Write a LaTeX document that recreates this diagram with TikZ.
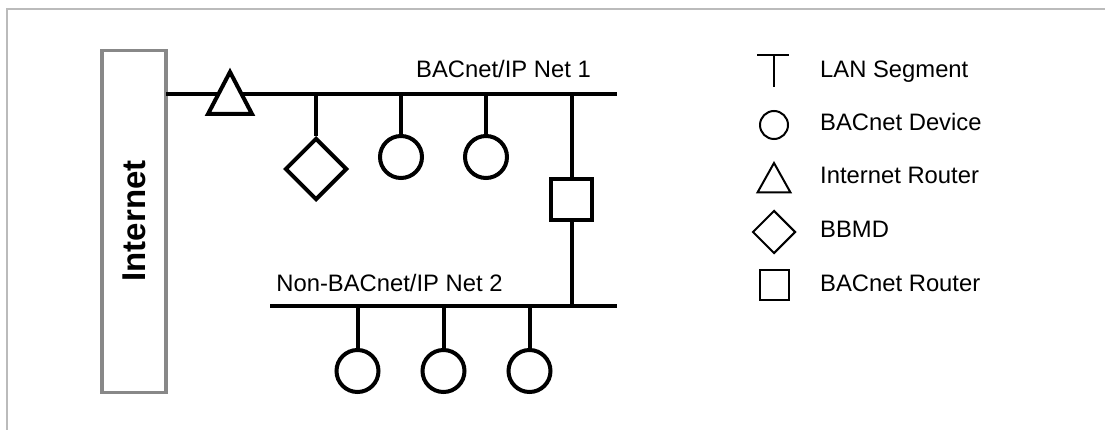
\documentclass[tikz,border=0pt]{standalone}
\usepackage{fontspec}
\setmainfont{Liberation Sans}
\usetikzlibrary{shapes.geometric}
\begin{document}
\begin{tikzpicture}[x=1pt,y=-1pt,
  net/.style={line width=4pt},
  dev/.style={circle,draw,line width=4pt,fill=white,minimum size=42pt,inner sep=0pt},
  bbmd/.style={diamond,draw,line width=4pt,fill=white,minimum width=62pt,minimum height=62pt,inner sep=0pt},
  brouter/.style={rectangle,draw,line width=4pt,fill=white,minimum size=41pt,inner sep=0pt},
  lbl/.style={font=\fontsize{23.8}{28}\selectfont,inner sep=0pt},
  leg/.style={line width=2pt},
]
\useasboundingbox (0,0) rectangle (1105,430);
% frame
\draw[color={rgb,255:red,187;green,187;blue,187},line width=2pt] (7,431) -- (7,9.5) -- (1106,9.5);
% Internet box
\node[draw={rgb,255:red,136;green,136;blue,136},line width=3.5pt,fill=white,minimum width=64pt,minimum height=342pt,inner sep=0pt] (inet) at (134,221.5) {};
\node[rotate=90,font=\fontsize{33}{36}\selectfont\bfseries,inner sep=0pt] (inetlbl) at (134.5,221) {Internet};
% Net 1
\coordinate (n1a) at (166,94);
\coordinate (n1b) at (617,94);
\draw[net] (n1a) -- (n1b);
% internet router triangle
\coordinate (trA) at (230,72);
\coordinate (trB) at (208,114);
\coordinate (trC) at (252,114);
\draw[line width=4pt,fill=white,line join=miter] (trA) -- (trB) -- (trC) -- cycle;
% BBMD
\node[bbmd] (bb) at (316,169) {};
\coordinate (s1) at (316,94);
\draw[net] (s1) -- (bb.north);
% devices net 1
\node[dev] (d1) at (401,157) {};
\node[dev] (d2) at (486,157) {};
\coordinate (s2) at (401,94);
\coordinate (s3) at (486,94);
\draw[net] (s2) -- (d1.north);
\draw[net] (s3) -- (d2.north);
% BACnet router
\coordinate (r1) at (571.5,94);
\coordinate (r2) at (571.5,306);
\node[brouter] (br) at (571.5,199.5) {};
\draw[net] (r1) -- (br.north);
\draw[net] (br.south) -- (r2);
% Net 2
\coordinate (n2a) at (270,306);
\coordinate (n2b) at (617,306);
\draw[net] (n2a) -- (n2b);
\node[dev] (d3) at (357.5,371) {};
\node[dev] (d4) at (443.5,371) {};
\node[dev] (d5) at (529.5,371) {};
\coordinate (s4) at (357.5,306);
\coordinate (s5) at (443.5,306);
\coordinate (s6) at (529.5,306);
\draw[net] (s4) -- (d3.north);
\draw[net] (s5) -- (d4.north);
\draw[net] (s6) -- (d5.north);
% labels
\node[lbl,anchor=base] (l1) at (503.5,78) {BACnet/IP Net 1};
\node[lbl,anchor=base] (l2) at (389.5,291) {Non-BACnet/IP Net 2};
% legend
\coordinate (tA) at (757,55.5);
\coordinate (tB) at (789,55.5);
\coordinate (tC) at (774,55.5);
\coordinate (tD) at (774,87);
\draw[leg] (tA) -- (tB);
\draw[leg] (tC) -- (tD);
\node[circle,draw,line width=2pt,minimum size=28pt,inner sep=0pt] (lc) at (774,125) {};
\draw[leg,line join=miter] (774,163) -- (757.5,192.5) -- (790.5,192.5) -- cycle;
\node[diamond,draw,line width=2pt,minimum width=43pt,minimum height=43pt,inner sep=0pt] (ld) at (774,232) {};
\node[rectangle,draw,line width=2pt,minimum size=29pt,inner sep=0pt] (lr) at (774,285) {};
\node[lbl,anchor=base west] (t1) at (820,78) {LAN Segment};
\node[lbl,anchor=base west] (t2) at (820,131) {BACnet Device};
\node[lbl,anchor=base west] (t3) at (820,184) {Internet Router};
\node[lbl,anchor=base west] (t4) at (820,238) {BBMD};
\node[lbl,anchor=base west] (t5) at (820,291) {BACnet Router};
\end{tikzpicture}
\end{document}
